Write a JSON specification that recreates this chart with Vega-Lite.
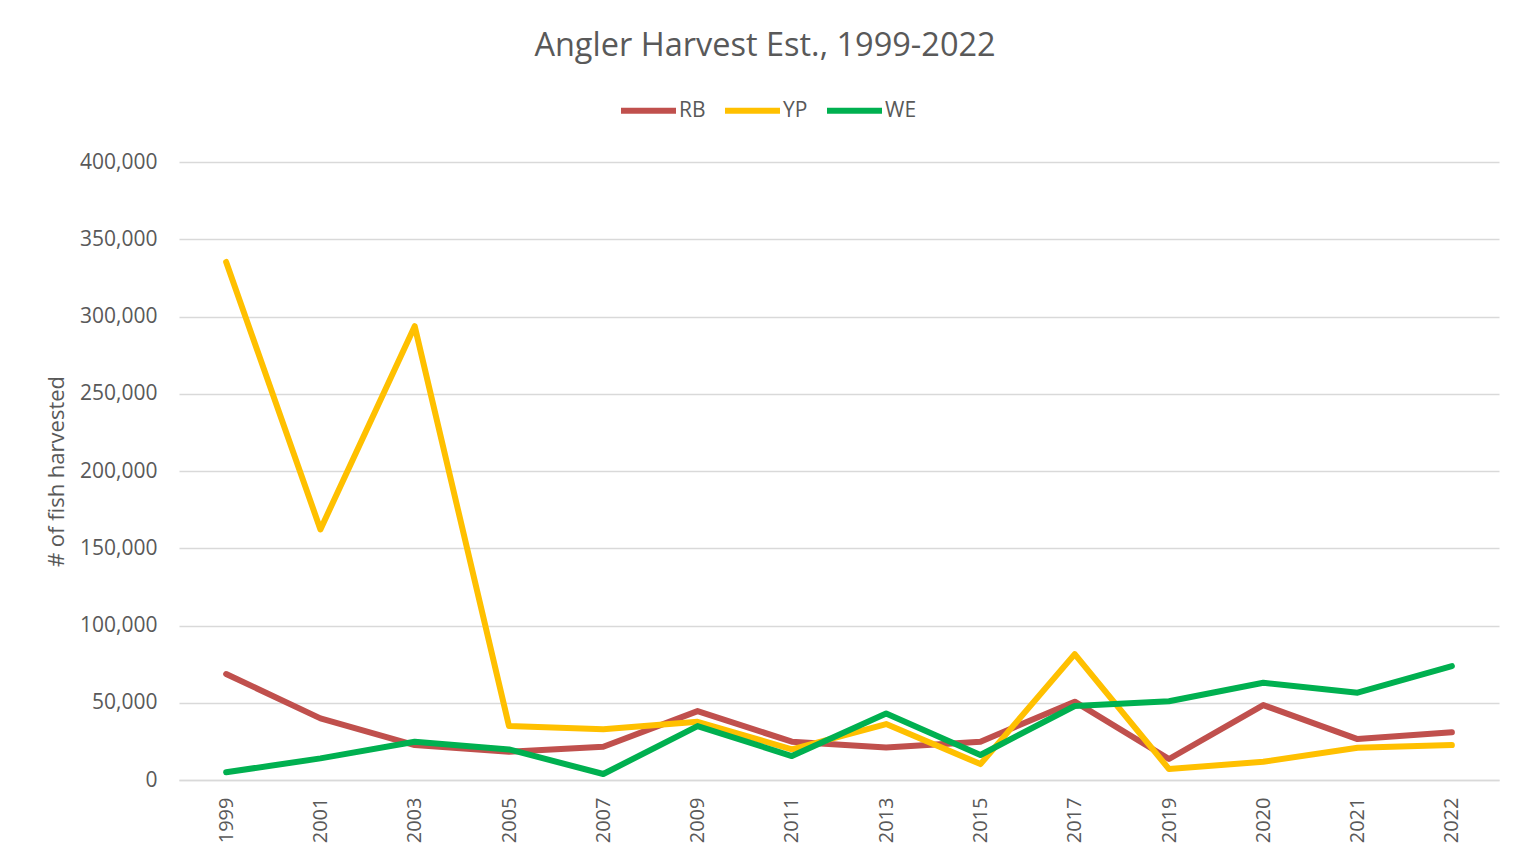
{
  "$schema": "https://vega.github.io/schema/vega-lite/v6.json",
  "width": 1320,
  "height": 618,
  "autosize": {"type": "none"},
  "padding": {"left": 179, "top": 162, "right": 29, "bottom": 81},
  "background": "white",
  "title": {
    "text": "Angler Harvest Est., 1999-2022",
    "font": "Open Sans",
    "fontSize": 32.5,
    "fontWeight": "normal",
    "color": "#595959",
    "anchor": "middle",
    "frame": "group",
    "dx": -74,
    "baseline": "alphabetic",
    "offset": -8
  },
  "data": {
    "values": [
      {"year": 1999, "species": "RB", "harvest": 68600},
      {"year": 2001, "species": "RB", "harvest": 39900},
      {"year": 2003, "species": "RB", "harvest": 22600},
      {"year": 2005, "species": "RB", "harvest": 18300},
      {"year": 2007, "species": "RB", "harvest": 21500},
      {"year": 2009, "species": "RB", "harvest": 44600},
      {"year": 2011, "species": "RB", "harvest": 24800},
      {"year": 2013, "species": "RB", "harvest": 21100},
      {"year": 2015, "species": "RB", "harvest": 24800},
      {"year": 2017, "species": "RB", "harvest": 50700},
      {"year": 2019, "species": "RB", "harvest": 13600},
      {"year": 2020, "species": "RB", "harvest": 48500},
      {"year": 2021, "species": "RB", "harvest": 26500},
      {"year": 2022, "species": "RB", "harvest": 30900},
      {"year": 1999, "species": "YP", "harvest": 335300},
      {"year": 2001, "species": "YP", "harvest": 162200},
      {"year": 2003, "species": "YP", "harvest": 293700},
      {"year": 2005, "species": "YP", "harvest": 34900},
      {"year": 2007, "species": "YP", "harvest": 32800},
      {"year": 2009, "species": "YP", "harvest": 37700},
      {"year": 2011, "species": "YP", "harvest": 19800},
      {"year": 2013, "species": "YP", "harvest": 36200},
      {"year": 2015, "species": "YP", "harvest": 10300},
      {"year": 2017, "species": "YP", "harvest": 81500},
      {"year": 2019, "species": "YP", "harvest": 7100},
      {"year": 2020, "species": "YP", "harvest": 11800},
      {"year": 2021, "species": "YP", "harvest": 20900},
      {"year": 2022, "species": "YP", "harvest": 22600},
      {"year": 1999, "species": "WE", "harvest": 5000},
      {"year": 2001, "species": "WE", "harvest": 14000},
      {"year": 2003, "species": "WE", "harvest": 24800},
      {"year": 2005, "species": "WE", "harvest": 19800},
      {"year": 2007, "species": "WE", "harvest": 3900},
      {"year": 2009, "species": "WE", "harvest": 34900},
      {"year": 2011, "species": "WE", "harvest": 15500},
      {"year": 2013, "species": "WE", "harvest": 43100},
      {"year": 2015, "species": "WE", "harvest": 16200},
      {"year": 2017, "species": "WE", "harvest": 47900},
      {"year": 2019, "species": "WE", "harvest": 51000},
      {"year": 2020, "species": "WE", "harvest": 62900},
      {"year": 2021, "species": "WE", "harvest": 56500},
      {"year": 2022, "species": "WE", "harvest": 73700}
    ]
  },
  "mark": {"type": "line", "strokeWidth": 6, "strokeCap": "round", "strokeJoin": "round"},
  "encoding": {
    "x": {
      "field": "year",
      "type": "ordinal",
      "axis": {
        "title": null,
        "labelAngle": -90,
        "labelAlign": "right",
        "labelBaseline": "middle",
        "labelFont": "Open Sans",
        "labelFontSize": 20,
        "labelColor": "#595959",
        "labelPadding": 17,
        "ticks": false,
        "domain": true,
        "domainColor": "#D9D9D9",
        "domainWidth": 1.5,
        "grid": false
      }
    },
    "y": {
      "field": "harvest",
      "type": "quantitative",
      "scale": {"domain": [0, 400000], "nice": false},
      "axis": {
        "title": "# of fish harvested",
        "titleFont": "Open Sans",
        "titleFontSize": 22,
        "titleFontWeight": "normal",
        "titleColor": "#595959",
        "titleAngle": -90,
        "titleAlign": "center",
        "titleBaseline": "middle",
        "titleX": -123,
        "titleY": 309,
        "values": [0, 50000, 100000, 150000, 200000, 250000, 300000, 350000, 400000],
        "format": ",d",
        "labelFont": "Open Sans",
        "labelFontSize": 21,
        "labelColor": "#595959",
        "labelPadding": 22,
        "ticks": false,
        "domain": false,
        "grid": true,
        "gridColor": "#D9D9D9",
        "gridWidth": 1.5
      }
    },
    "color": {
      "field": "species",
      "type": "nominal",
      "scale": {"domain": ["RB", "YP", "WE"], "range": ["#C0504D", "#FFC000", "#00B050"]},
      "legend": {
        "title": null,
        "orient": "none",
        "direction": "horizontal",
        "legendX": 439,
        "legendY": -82,
        "symbolType": "stroke",
        "symbolSize": 3025,
        "symbolStrokeWidth": 6,
        "labelFont": "Open Sans",
        "labelFontSize": 21,
        "labelColor": "#595959",
        "labelOffset": 0,
        "columnPadding": 7,
        "padding": 0
      }
    }
  },
  "config": {
    "view": {"stroke": null}
  }
}
